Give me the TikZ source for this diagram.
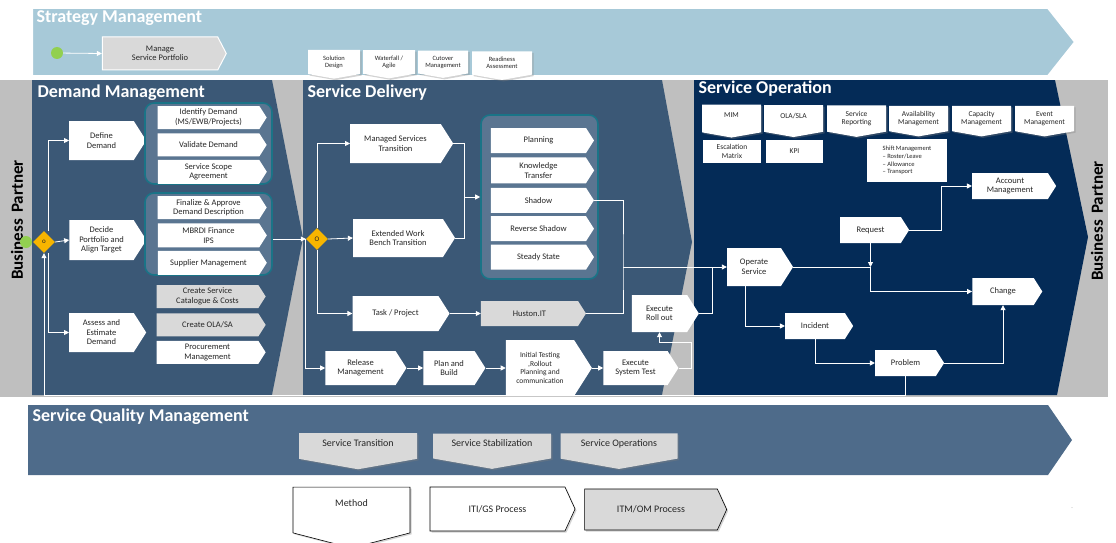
\documentclass[tikz,border=0pt]{standalone}
\usepackage{fontspec}
\setmainfont{Carlito}
\usetikzlibrary{positioning, shapes.symbols, shapes.geometric, arrows.meta, shadows}
\definecolor{stratblue}{HTML}{A7C9D8}
\definecolor{bandgrey}{HTML}{BFBFBF}
\definecolor{slate}{HTML}{3B5876}
\definecolor{navy}{HTML}{042B57}
\definecolor{sqmblue}{HTML}{4E6B8A}
\definecolor{grpfill}{HTML}{5A7591}
\definecolor{grpline}{HTML}{1A7487}
\definecolor{boxgrey}{HTML}{D9D9D9}
\definecolor{diayellow}{HTML}{F7B500}
\definecolor{dotgreen}{HTML}{92D050}
\definecolor{boxtext}{HTML}{262626}

\tikzset{
  sz/.style 2 args={minimum width=#1pt, minimum height=#2pt},
  stepbox/.style={shape=signal, signal to=east, signal pointer angle=115,
    fill=white, inner sep=0pt, align=center, text=boxtext,
    font=\fontsize{8.5}{9.5}\selectfont},
  greybox/.style={stepbox, fill=boxgrey},
  dropbox/.style={shape=signal, signal to=south, signal pointer angle=160,
    fill=white, inner sep=0pt, align=center, text=boxtext,
    font=\fontsize{7.5}{8}\selectfont},
  plainbox/.style={rectangle, fill=white, inner sep=0pt, align=center,
    text=boxtext, font=\fontsize{7.5}{8.5}\selectfont},
  grpbox/.style={rectangle, rounded corners=9pt, draw=grpline,
    line width=1.6pt, fill=grpfill},
  gate/.style={diamond, fill=diayellow, inner sep=0pt, minimum size=22pt,
    text=boxtext, font=\fontsize{7}{7}\selectfont},
  startdot/.style={circle, fill=dotgreen, inner sep=0pt, minimum size=12pt},
  link/.style={draw=white, line width=0.8pt, -{Triangle[length=5pt,width=5pt]}},
  wire/.style={draw=white, line width=0.8pt},
  title/.style={text=white, anchor=west, font=\bfseries\fontsize{18}{20}\selectfont},
  partner/.style={rotate=90, text=black, font=\bfseries\fontsize{17}{17}\selectfont},
  legendtxt/.style={font=\fontsize{10}{11}\selectfont},
  shade/.style={drop shadow={shadow xshift=1.5pt, shadow yshift=-1.5pt, opacity=0.35}},
}

\begin{document}
\begin{tikzpicture}[x=1pt, y=-1pt]
\useasboundingbox (0,0) rectangle (1116,543);

% Strategy band
\filldraw[fill=stratblue, draw=white, line width=2pt]
  (32,8) -- (1048,8) -- (1075,42) -- (1048,76) -- (32,76) -- cycle;
\node[title] (ttlsm) at (33,18) {Strategy Management};
\node[startdot] (gdot) at (57,53) {};
\node[greybox, draw=white, line width=1pt, sz={124}{33}, signal pointer angle=125] (msp) at (160,53.5) {Manage\\Service Portfolio};
\draw[link] (gdot) -- (msp.west);

% Panels
\fill[bandgrey] (0,80) rectangle (1108,397);
\fill[slate] (32,80) -- (272,80) -- (303,238) -- (272,395) -- (32,395) -- cycle;
\fill[slate] (303,80) -- (662,80) -- (692,242) -- (662,395) -- (303,395) -- cycle;
\fill[navy] (694,80) -- (1055,80) -- (1088,237) -- (1057,395) -- (694,395) -- cycle;
\node[title] (ttldm) at (34,93) {Demand Management};
\node[title] (ttlsd) at (304,93) {Service Delivery};
\node[title] (ttlso) at (695,89) {Service Operation};
\node[partner] (bpl) at (17,220) {Business\hspace{6pt}Partner};
\node[partner] (bpr) at (1097,221) {Business\hspace{6pt}Partner};

% Method boxes on the strategy band
\node[dropbox, shade, sz={52}{26}, font=\fontsize{6.5}{7}\selectfont] (sol) at (334,62) {Solution\\Design};
\node[dropbox, shade, sz={52}{26}, font=\fontsize{6.5}{7}\selectfont] (wat) at (389,62) {Waterfall /\\Agile};
\node[dropbox, shade, sz={50}{26}, font=\fontsize{6.5}{7}\selectfont] (cut) at (443,62) {Cutover\\Management};
\node[dropbox, shade, sz={60}{26}, font=\fontsize{6.5}{7}\selectfont] (rdy) at (502,63) {Readiness\\Assessment};

% Demand Management
\node[stepbox, sz={77}{39}] (def) at (101.5,140.5) {Define\\Demand};
\node[stepbox, sz={77}{40}] (dec) at (101.5,240) {Decide\\Portfolio and\\Align Target};
\node[stepbox, sz={77}{39}] (ass) at (101.5,332.5) {Assess and\\Estimate\\Demand};

\node[grpbox, sz={127}{81}] (grpA) at (208.5,143.5) {};
\node[stepbox, sz={109}{23}] (idd) at (208.5,117.5) {Identify Demand\\(MS/EWB/Projects)};
\node[stepbox, sz={109}{23}, below=4pt of idd] (val) {Validate Demand};
\node[stepbox, sz={109}{24}, below=3pt of val] (ssa) {Service Scope\\Agreement};

\node[grpbox, sz={127}{82}] (grpB) at (208.5,234) {};
\node[stepbox, sz={109}{23}] (fin) at (208.5,207.5) {Finalize \& Approve\\Demand Description};
\node[stepbox, sz={109}{24}, below=4pt of fin] (mbr) {MBRDI Finance\\IPS};
\node[stepbox, sz={109}{24}, below=3pt of mbr] (sup) {Supplier Management};

\node[greybox, sz={109}{23}] (csc) at (207.5,296.5) {Create Service\\Catalogue \& Costs};
\node[greybox, sz={109}{23}, below=5pt of csc] (ola) {Create OLA/SA};
\node[stepbox, sz={109}{23}, below=4pt of ola] (pro) {Procurement\\Management};

\node[startdot] (gA) at (26,242) {};
\node[gate] (dA) at (44,242) {o};
\draw[link] ([xshift=4pt]dA.north) |- (def.west);
\draw[link] (dA.east) -- (dec.west);
\draw[link] ([xshift=4pt]dA.south) |- (ass.west);

% Service Delivery
\node[gate] (dB) at (317,239) {O};
\draw[link] (grpB.east |- dB.west) -- (dB.west);

\node[stepbox, sz={103}{39}] (mst) at (395.5,143.5) {Managed Services\\Transition};
\node[stepbox, sz={102}{38}] (ewb) at (398,238) {Extended Work\\Bench Transition};
\node[stepbox, sz={97}{35}] (tsk) at (395.5,313.5) {Task / Project};
\node[stepbox, sz={81}{34}] (rel) at (360.5,368) {Release\\Management};
\node[stepbox, sz={62}{34}] (pab) at (449,368) {Plan and\\Build};
\node[stepbox, sz={86}{56}, font=\fontsize{7.5}{8.5}\selectfont] (itr) at (540,368) {Initial Testing\\,Rollout\\Planning and\\communication};
\node[stepbox, sz={75}{34}] (est) at (635.5,368) {Execute\\System Test};
\node[stepbox, sz={67}{37}] (ero) at (659.5,313.5) {Execute\\Roll out};
\node[greybox, sz={105}{25}] (hus) at (529.5,313.5) {Huston.IT};

\node[grpbox, sz={117}{164}] (grpC) at (539.5,197) {};
\node[stepbox, sz={103}{25}] (pln) at (538.5,140.5) {Planning};
\node[stepbox, sz={103}{26}, below=4pt of pln] (ktr) {Knowledge\\Transfer};
\node[stepbox, sz={103}{25}, below=4pt of ktr] (shd) {Shadow};
\node[stepbox, sz={103}{25}, below=3pt of shd] (rsh) {Reverse Shadow};
\node[stepbox, sz={103}{25}, below=3pt of rsh] (sst) {Steady State};

\draw[link] (dB.north) |- (mst.west);
\draw[link] (dB.east) -- (ewb.west);
\draw[link] (dB.south) |- (tsk.west);
\draw[link] (dB.west) |- (rel.west);
\coordinate (jn) at (464,197);
\draw[wire] (mst.east) -| (jn);
\draw[wire] (ewb.east) -| (jn);
\draw[link] (jn) -- (grpC.west);
\draw[link] (tsk.east) -- (hus.west);
\draw[link] (rel.east) -- (pab.west);
\draw[link] (pab.east) -- (itr.west);
\draw[link] (itr.east) -- (est.west);
\draw[link] (est.east) -- ++(13,0) -- ++(0,-26) -| (ero.south);

% Service Operation
\node[dropbox, shade, sz={59}{29}, text depth=6pt] (mim) at (731.5,118.5) {MIM};
\node[dropbox, shade, sz={59}{29}, text depth=6pt] (osl) at (793.5,118.5) {OLA/SLA};
\node[dropbox, shade, sz={59}{29}] (srp) at (856.5,118.5) {Service\\Reporting};
\node[dropbox, shade, sz={59}{29}] (avm) at (918.5,118.5) {Availability\\Management};
\node[dropbox, shade, sz={59}{29}] (cpm) at (981.5,118.5) {Capacity\\Management};
\node[dropbox, shade, sz={59}{29}] (evm) at (1044.5,118.5) {Event\\Management};
\node[plainbox, sz={58}{23}] (esc) at (732,151.5) {Escalation\\Matrix};
\node[plainbox, sz={57}{23}] (kpi) at (794.5,151.5) {KPI};
\node[plainbox, sz={80}{43}, align=left, font=\fontsize{6.5}{7.8}\selectfont] (shf) at (907,160.5) {Shift Management\\-- Roster/Leave\\-- Allowance\\-- Transport};

\node[stepbox, sz={84}{26}] (acc) at (1010,186) {Account\\Management};
\node[stepbox, sz={69}{26}] (req) at (870.5,230) {Request};
\node[stepbox, sz={66}{38}] (ops) at (754,267) {Operate\\Service};
\node[stepbox, sz={70}{27}] (chg) at (1003,291.5) {Change};
\node[stepbox, sz={68}{26}] (inc) at (815,326) {Incident};
\node[stepbox, sz={69}{26}] (prb) at (905.5,363) {Problem};

\coordinate (jx) at (623,267);
\draw[wire] (shd.east) -| (jx) |- (hus.east);
\draw[link] (jx) -- (ops.west);
\draw[wire] (ero.east) -| ([xshift=-14pt]ops.west);
\draw[link] (req.east) -- ++(32,0) |- (acc.west);
\draw[link] (req.south) -- (req.south |- ops.east);
\draw[link] (ops.east) -- (ops.east -| req.south) |- (chg.west);
\draw[link] ([xshift=-9pt]ops.south) |- (inc.west);
\draw[link] (inc.south) |- (prb.west);
\draw[link] (prb.east) -| (chg.south);
\coordinate (fbk) at (44,395);
\draw[link] (prb.south) |- (fbk) -- (dA.south);

% Service Quality Management
\fill[sqmblue] (28,405) -- (1048,405) -- (1072,440) -- (1048,475) -- (28,475) -- cycle;
\node[title, font=\bfseries\fontsize{18}{20}\selectfont] (ttlsq) at (29,417) {Service Quality Management};
\node[dropbox, fill=boxgrey, shade, sz={118}{32}, legendtxt, text depth=6pt] (sqt) at (358,446) {Service Transition};
\node[dropbox, fill=boxgrey, shade, sz={118}{32}, legendtxt, text depth=6pt] (sqs) at (492,446) {Service Stabilization};
\node[dropbox, fill=boxgrey, shade, sz={117}{32}, legendtxt, text depth=6pt] (sqo) at (619,446) {Service Operations};

% Legend
\node[dropbox, draw=black, line width=0.6pt, shade, sz={117}{50}, signal pointer angle=151, legendtxt, text depth=14pt] (lmt) at (351.5,510) {Method};
\node[stepbox, draw=black, line width=0.6pt, shade, sz={145}{44}, signal pointer angle=131, legendtxt] (lit) at (497.5,509) {ITI/GS Process};
\node[greybox, draw=black, line width=0.6pt, shade, sz={142}{41}, signal pointer angle=131, legendtxt] (lim) at (651,509.5) {ITM/OM Process};
\node[text=gray, font=\fontsize{6}{6}\selectfont] (spk) at (1072,508) {.};

\end{tikzpicture}
\end{document}
